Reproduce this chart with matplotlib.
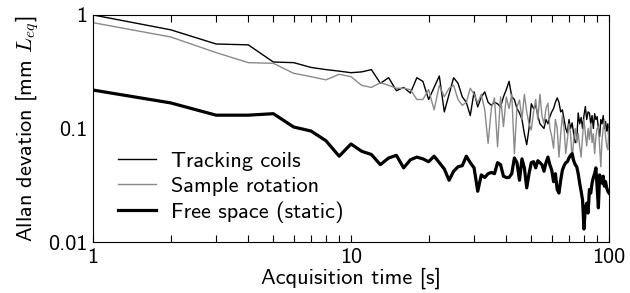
import numpy as np
import matplotlib
matplotlib.use('Agg')
from matplotlib import pyplot as plt

plt.rcParams['font.family'] = ['cmss10', 'DejaVu Sans']
plt.rcParams['mathtext.fontset'] = 'cm'
plt.rcParams['axes.unicode_minus'] = False
plt.rcParams['font.size'] = 16

### acquisition times (s)
t = np.arange(1, 101)

### Allan deviation
tracking = [1.0, 0.74, 0.555, 0.545, 0.385, 0.38, 0.345, 0.33, 0.32, 0.31,
            0.315, 0.33, 0.25, 0.28, 0.215, 0.23, 0.205, 0.28, 0.26, 0.18,
            0.23, 0.29, 0.14, 0.2, 0.28, 0.25, 0.19, 0.17, 0.13, 0.21,
            0.155, 0.19, 0.21, 0.17, 0.16, 0.17, 0.165, 0.155, 0.19, 0.22,
            0.26, 0.19, 0.18, 0.15, 0.137, 0.12, 0.09, 0.072, 0.1, 0.165,
            0.15, 0.16, 0.13, 0.11, 0.105, 0.1, 0.12, 0.11, 0.127, 0.14,
            0.15, 0.17, 0.186, 0.17, 0.14, 0.146, 0.12, 0.1, 0.091, 0.12,
            0.1, 0.112, 0.09, 0.075, 0.079, 0.137, 0.11, 0.125, 0.1, 0.13,
            0.156, 0.12, 0.14, 0.137, 0.11, 0.13, 0.1, 0.135, 0.12, 0.127,
            0.1, 0.085, 0.12, 0.11, 0.13, 0.1, 0.115, 0.095, 0.11, 0.079]

rotation = [0.855, 0.64, 0.466, 0.38, 0.375, 0.306, 0.286, 0.268, 0.30, 0.286,
            0.24, 0.23, 0.253, 0.24, 0.226, 0.226, 0.22, 0.18, 0.18, 0.22,
            0.146, 0.24, 0.19, 0.226, 0.24, 0.18, 0.16, 0.17, 0.226, 0.2,
            0.168, 0.2, 0.146, 0.074, 0.15, 0.186, 0.069, 0.19, 0.104, 0.19,
            0.15, 0.2, 0.06, 0.155, 0.178, 0.12, 0.2, 0.14, 0.11, 0.097,
            0.14, 0.18, 0.12, 0.2, 0.13, 0.11, 0.15, 0.167, 0.1, 0.085,
            0.067, 0.12, 0.1, 0.056, 0.09, 0.13, 0.1, 0.06, 0.08, 0.11,
            0.09, 0.053, 0.08, 0.1, 0.075, 0.09, 0.07, 0.056, 0.085, 0.12,
            0.09, 0.07, 0.1, 0.08, 0.11, 0.075, 0.09, 0.06, 0.085, 0.1,
            0.104, 0.07, 0.046, 0.08, 0.1, 0.119, 0.085, 0.07, 0.065, 0.1]

free_space = [0.218, 0.168, 0.131, 0.131, 0.135, 0.103, 0.095, 0.078, 0.057, 0.073,
              0.063, 0.059, 0.048, 0.055, 0.058, 0.045, 0.053, 0.056, 0.054, 0.051,
              0.057, 0.050, 0.044, 0.035, 0.042, 0.046, 0.047, 0.057, 0.050, 0.045,
              0.028, 0.039, 0.037, 0.040, 0.041, 0.040, 0.050, 0.048, 0.038, 0.037,
              0.037, 0.040, 0.055, 0.050, 0.035, 0.054, 0.045, 0.030, 0.040, 0.050,
              0.051, 0.045, 0.052, 0.050, 0.048, 0.042, 0.050, 0.056, 0.048, 0.043,
              0.034, 0.040, 0.029, 0.027, 0.035, 0.043, 0.047, 0.050, 0.051, 0.055,
              0.058, 0.060, 0.052, 0.048, 0.046, 0.040, 0.033, 0.028, 0.0235, 0.013,
              0.020, 0.022, 0.018, 0.029, 0.027, 0.033, 0.037, 0.040, 0.045, 0.030,
              0.020, 0.039, 0.036, 0.033, 0.038, 0.031, 0.034, 0.030, 0.028, 0.027]

labels = ['Tracking coils', 'Sample rotation', 'Free space (static)']

fig = plt.figure(figsize=(6.3, 2.93), dpi=100)
ax = fig.add_axes([0.1476, 0.174, 0.819, 0.775])

ax.plot(t, tracking, color='black', lw=1.0, label=labels[0])
ax.plot(t, rotation, color='#8a8a8a', lw=1.0, label=labels[1])
ax.plot(t, free_space, color='black', lw=2.3, label=labels[2])

ax.set_xscale('log')
ax.set_yscale('log')
ax.set_xlim(1, 100)
ax.set_ylim(0.01, 1)
ax.set_xticks([1, 10, 100])
ax.set_xticklabels(['1', '10', '100'])
ax.set_yticks([0.01, 0.1, 1])
ax.set_yticklabels(['0.01', '0.1', '1'])
ax.yaxis.set_minor_locator(matplotlib.ticker.NullLocator())
ax.tick_params(axis='x', which='both', direction='in', top=True, bottom=True, length=5, width=0.8, pad=4)
ax.tick_params(axis='y', which='both', length=0, pad=4)

ax.set_xlabel('Acquisition time [s]', labelpad=1)
ax.set_ylabel('Allan devation [mm $L_{eq}$]', labelpad=5)

ax.legend(loc='lower left', frameon=False, handlelength=1.7, labelspacing=0.25,
          handletextpad=0.7, borderpad=0, borderaxespad=0, bbox_to_anchor=(0.048, 0.085))

fig.savefig('out.png', dpi=100)
